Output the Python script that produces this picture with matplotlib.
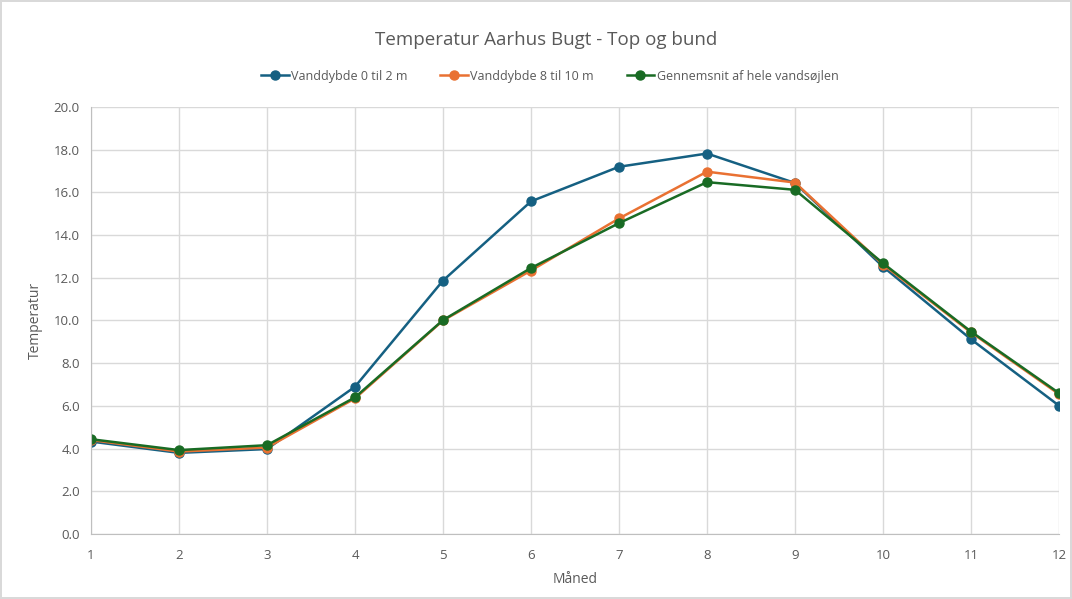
import matplotlib.pyplot as plt
from matplotlib.ticker import FormatStrFormatter

plt.rcParams['font.family'] = ['Open Sans', 'DejaVu Sans']

months = [1, 2, 3, 4, 5, 6, 7, 8, 9, 10, 11, 12]
top = [4.33, 3.8, 3.98, 6.9, 11.87, 15.58, 17.2, 17.82, 16.44, 12.52, 9.12, 6.01]
bottom = [4.4, 3.86, 4.05, 6.35, 10.0, 12.34, 14.78, 16.97, 16.46, 12.62, 9.44, 6.55]
mean = [4.44, 3.93, 4.16, 6.4, 10.02, 12.46, 14.56, 16.48, 16.12, 12.68, 9.48, 6.6]

labels = ['Vanddybde 0 til 2 m', 'Vanddybde 8 til 10 m', 'Gennemsnit af hele vandsøjlen']
colors = ['#156082', '#E97132', '#196B24']
gray = '#595959'

fig = plt.figure(figsize=(10.72, 5.99), dpi=100)
fig.patch.set_edgecolor('#D9D9D9')
fig.patch.set_linewidth(1.5)
ax = fig.add_axes([0.0849, 0.1085, 0.903, 0.7129])

for ys, lab, c in zip([top, bottom, mean], labels, colors):
    ax.plot(months, ys, color=c, lw=1.8, marker='o', markersize=6.5, label=lab)

ax.set_xlim(1, 12)
ax.set_ylim(0, 20)
ax.set_xticks(months)
ax.set_yticks([0, 2, 4, 6, 8, 10, 12, 14, 16, 18, 20])
ax.yaxis.set_major_formatter(FormatStrFormatter('%.1f'))
ax.grid(True, color='#D9D9D9', lw=1)
ax.set_axisbelow(True)
for s in ['top', 'right']:
    ax.spines[s].set_visible(False)
for s in ['left', 'bottom']:
    ax.spines[s].set_color('#BFBFBF')
ax.tick_params(length=0, colors=gray, labelsize=9.5)
ax.tick_params(axis='x', pad=11)
ax.tick_params(axis='y', pad=8)
ax.set_xlabel('Måned', color=gray, fontsize=10, labelpad=7)
ax.set_ylabel('Temperatur', color=gray, fontsize=10, labelpad=8)

fig.text(0.509, 0.933, 'Temperatur Aarhus Bugt - Top og bund', ha='center', va='center',
         color=gray, fontsize=13.5)
fig.legend(loc='center', bbox_to_anchor=(0.513, 0.873), ncol=3, frameon=False,
           fontsize=9, labelcolor=gray, handlelength=2.2, columnspacing=2.6, handletextpad=0.2)

fig.savefig('out.png', dpi=100)
